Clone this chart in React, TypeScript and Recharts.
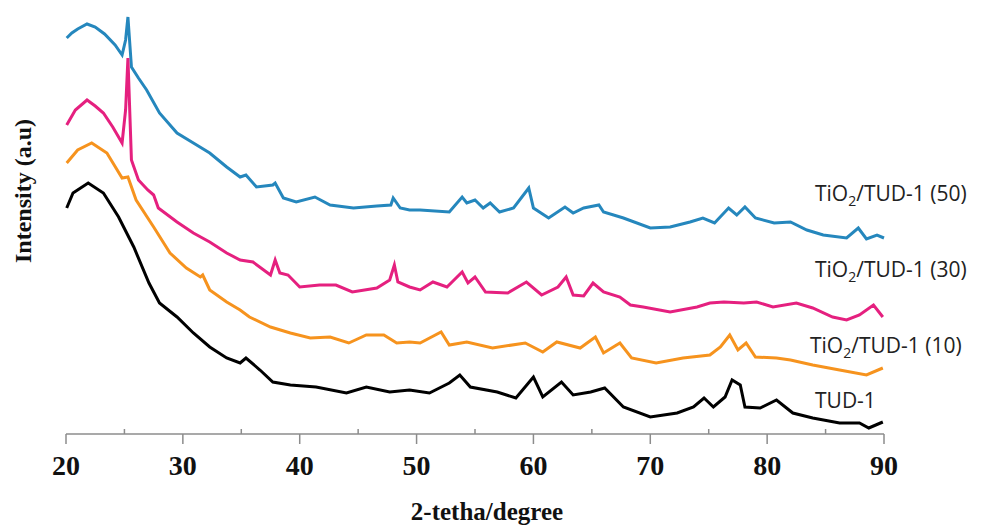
import React from 'react';
import { LineChart, Line, XAxis, YAxis } from 'recharts';

// 2-theta positions (degree) and intensities (a.u.)
const tio2_50_x = [20.06, 20.5, 21, 21.8, 22.5, 23.3, 24.2, 24.8, 25.1, 25.3, 25.6, 26.2, 26.9, 28, 29.5, 30.9, 32.3, 33.75, 34.9, 35.4, 36.3, 37.7, 37.9, 38.6, 39.7, 41.3, 42.6, 44.6, 46.6, 47.8, 48, 48.6, 49.4, 50.3, 52.8, 53.9, 54.3, 55, 55.7, 56.3, 57.1, 58.3, 59.6, 60, 61.3, 62.7, 63.4, 64.3, 65.6, 66, 67.7, 70, 71.7, 73.4, 74.5, 75.5, 76.7, 77.4, 78.1, 79, 80.6, 82, 83.4, 84.8, 86.8, 87.8, 88.5, 89.4, 90];
const tio2_50_y = [396, 401, 405, 410, 407, 400, 389, 379, 394, 417, 367, 356, 344, 321, 301, 291, 281, 267, 257, 259, 247, 249, 251, 236, 232, 237, 229, 226, 228, 229, 236, 226, 224, 224, 222, 237, 231, 234, 226, 231, 222, 226, 246, 226, 216, 227, 221, 226, 229, 222, 216, 206, 207, 212, 216, 211, 226, 219, 227, 216, 211, 212, 204, 199, 196, 206, 195, 199, 196];

const tio2_30_x = [20.06, 20.8, 21.8, 22.5, 23.2, 24, 24.8, 25.1, 25.3, 25.6, 26.2, 27, 27.5, 27.9, 29.5, 30.9, 32.3, 33.75, 34.9, 36, 37.5, 37.9, 38.3, 39, 40, 41.7, 43.1, 44.5, 46.6, 47.7, 48.1, 48.4, 49.4, 50.3, 51.4, 52.6, 53.9, 54.4, 55, 55.9, 57.8, 59.4, 60.7, 62.1, 62.8, 63.4, 64.3, 65.1, 66, 67.4, 68.3, 69.4, 71.7, 74, 75.1, 76.3, 78, 79.1, 80.5, 82.5, 83.9, 85.6, 86.8, 87.9, 89.1, 89.9];
const tio2_30_y = [309, 324, 334, 328, 321, 307, 291, 324, 376, 274, 254, 244, 239, 226, 212, 201, 192, 181, 174, 172, 159, 174, 161, 159, 147, 149, 149, 142, 146, 154, 169, 152, 147, 144, 152, 147, 162, 151, 157, 142, 141, 152, 139, 147, 157, 139, 138, 151, 142, 137, 129, 127, 122, 127, 131, 132, 131, 132, 127, 131, 126, 117, 114, 119, 129, 117];

const tio2_10_x = [20.06, 21, 22.2, 23.5, 24.8, 25.3, 26, 27.5, 28.9, 30.3, 31.5, 31.7, 32.3, 33.75, 34.9, 35.7, 37.5, 39.2, 40.9, 42.6, 44.2, 45.7, 47.2, 48.3, 49.4, 50.3, 52.1, 52.8, 54.3, 56.5, 59.3, 60.8, 62, 64, 65.3, 66, 67.4, 68.4, 70.5, 72.8, 75.1, 76, 76.8, 77.5, 78.2, 79, 80.8, 82, 83.9, 86.2, 88.5, 89.9];
const tio2_10_y = [271, 284, 291, 281, 256, 257, 234, 207, 181, 166, 157, 159, 144, 132, 124, 117, 107, 101, 96, 97, 91, 99, 99, 91, 92, 91, 102, 89, 92, 86, 91, 82, 92, 86, 97, 81, 91, 76, 71, 76, 79, 87, 99, 84, 91, 77, 76, 74, 69, 64, 59, 66];

const tud1_x = [20.06, 20.6, 21.9, 23.2, 24.5, 25.8, 27.1, 28, 29.5, 30.9, 32.3, 33.75, 34.9, 35.4, 36.6, 37.7, 39.2, 41.4, 44, 45.7, 47.7, 49.4, 51.1, 52.8, 53.7, 54.6, 56.9, 58.5, 60, 60.8, 62.4, 63.4, 64.9, 66.1, 67.7, 70, 72.3, 73.7, 74.6, 75.4, 76.4, 77, 77.7, 78.1, 79.4, 80.8, 82.2, 83.9, 86.2, 87.9, 88.7, 89.9];
const tud1_y = [226, 241, 251, 241, 217, 187, 151, 131, 117, 101, 87, 76, 71, 76, 64, 52, 49, 47, 41, 47, 42, 44, 41, 51, 59, 47, 42, 36, 57, 37, 52, 39, 42, 46, 27, 17, 21, 27, 36, 27, 37, 54, 49, 27, 26, 34, 21, 16, 11, 11, 6, 12];

const xTicks = [20, 25, 30, 35, 40, 45, 50, 55, 60, 65, 70, 75, 80, 85, 90];

const zip = (xs: number[], ys: number[]) => xs.map((x, i) => ({ x, y: ys[i] }));

const series = [
  { name: 'TiO2/TUD-1 (50)', color: '#2587bd', data: zip(tio2_50_x, tio2_50_y) },
  { name: 'TiO2/TUD-1 (30)', color: '#e5207f', data: zip(tio2_30_x, tio2_30_y) },
  { name: 'TiO2/TUD-1 (10)', color: '#f6931e', data: zip(tio2_10_x, tio2_10_y) },
  { name: 'TUD-1', color: '#000000', data: zip(tud1_x, tud1_y) },
];

const serif = '"Liberation Serif", "Times New Roman", serif';
const sans = '"Open Sans", "Liberation Sans", sans-serif';

function AxisTick(props: any) {
  const { x, y, payload } = props;
  const major = payload.value % 10 === 0;
  if (!major) {
    return <line x1={x} x2={x} y1={y - 5} y2={y} stroke="#8c8c8c" strokeWidth={1.5} />;
  }
  return (
    <g>
      <line x1={x} x2={x} y1={y} y2={y + 10} stroke="#8c8c8c" strokeWidth={1.5} />
      <text x={x} y={y + 41} textAnchor="middle" fontFamily={serif} fontWeight="bold" fontSize={28} fill="#111">
        {payload.value}
      </text>
    </g>
  );
}

function SeriesLabel({ x, y, text }: { x: number; y: number; text: string }) {
  if (!text.startsWith('TiO2')) {
    return (
      <text x={x} y={y} fontFamily={sans} fontSize={21} fill="#222">
        {text}
      </text>
    );
  }
  return (
    <text x={x} y={y} fontFamily={sans} fontSize={21} fill="#222">
      TiO
      <tspan fontSize={14} dy={5}>2</tspan>
      <tspan dy={-5}>{text.slice(4)}</tspan>
    </text>
  );
}

export default function App() {
  return (
    <div style={{ position: 'absolute', left: 0, top: 0, width: 983, height: 529, background: '#fff' }}>
      <LineChart width={983} height={529} margin={{ top: 0, right: 99, bottom: 35, left: 66 }}>
        <XAxis
          dataKey="x"
          type="number"
          domain={[20, 90]}
          ticks={xTicks}
          interval={0}
          height={60}
          tickSize={0}
          tickMargin={0}
          tickLine={false}
          tick={<AxisTick />}
          axisLine={{ stroke: '#8c8c8c', strokeWidth: 1.5 }}
          allowDuplicatedCategory={false}
        />
        <YAxis type="number" domain={[0, 434]} hide />
        {series.map((s) => (
          <Line
            key={s.name}
            data={s.data}
            dataKey="y"
            type="linear"
            stroke={s.color}
            strokeWidth={3}
            dot={false}
            activeDot={false}
            isAnimationActive={false}
          />
        ))}
      </LineChart>
      <svg width={983} height={529} style={{ position: 'absolute', left: 0, top: 0, pointerEvents: 'none' }}>
        <text
          transform="translate(31,191) rotate(-90)"
          textAnchor="middle"
          fontFamily={serif}
          fontWeight="bold"
          fontSize={24}
          fill="#111"
        >
          Intensity (a.u)
        </text>
        <text x={487} y={520} textAnchor="middle" fontFamily={serif} fontWeight="bold" fontSize={25} fill="#111">
          2-tetha/degree
        </text>
        <SeriesLabel x={815} y={201} text={series[0].name} />
        <SeriesLabel x={815} y={277} text={series[1].name} />
        <SeriesLabel x={810} y={353} text={series[2].name} />
        <SeriesLabel x={815} y={408} text={series[3].name} />
      </svg>
    </div>
  );
}
